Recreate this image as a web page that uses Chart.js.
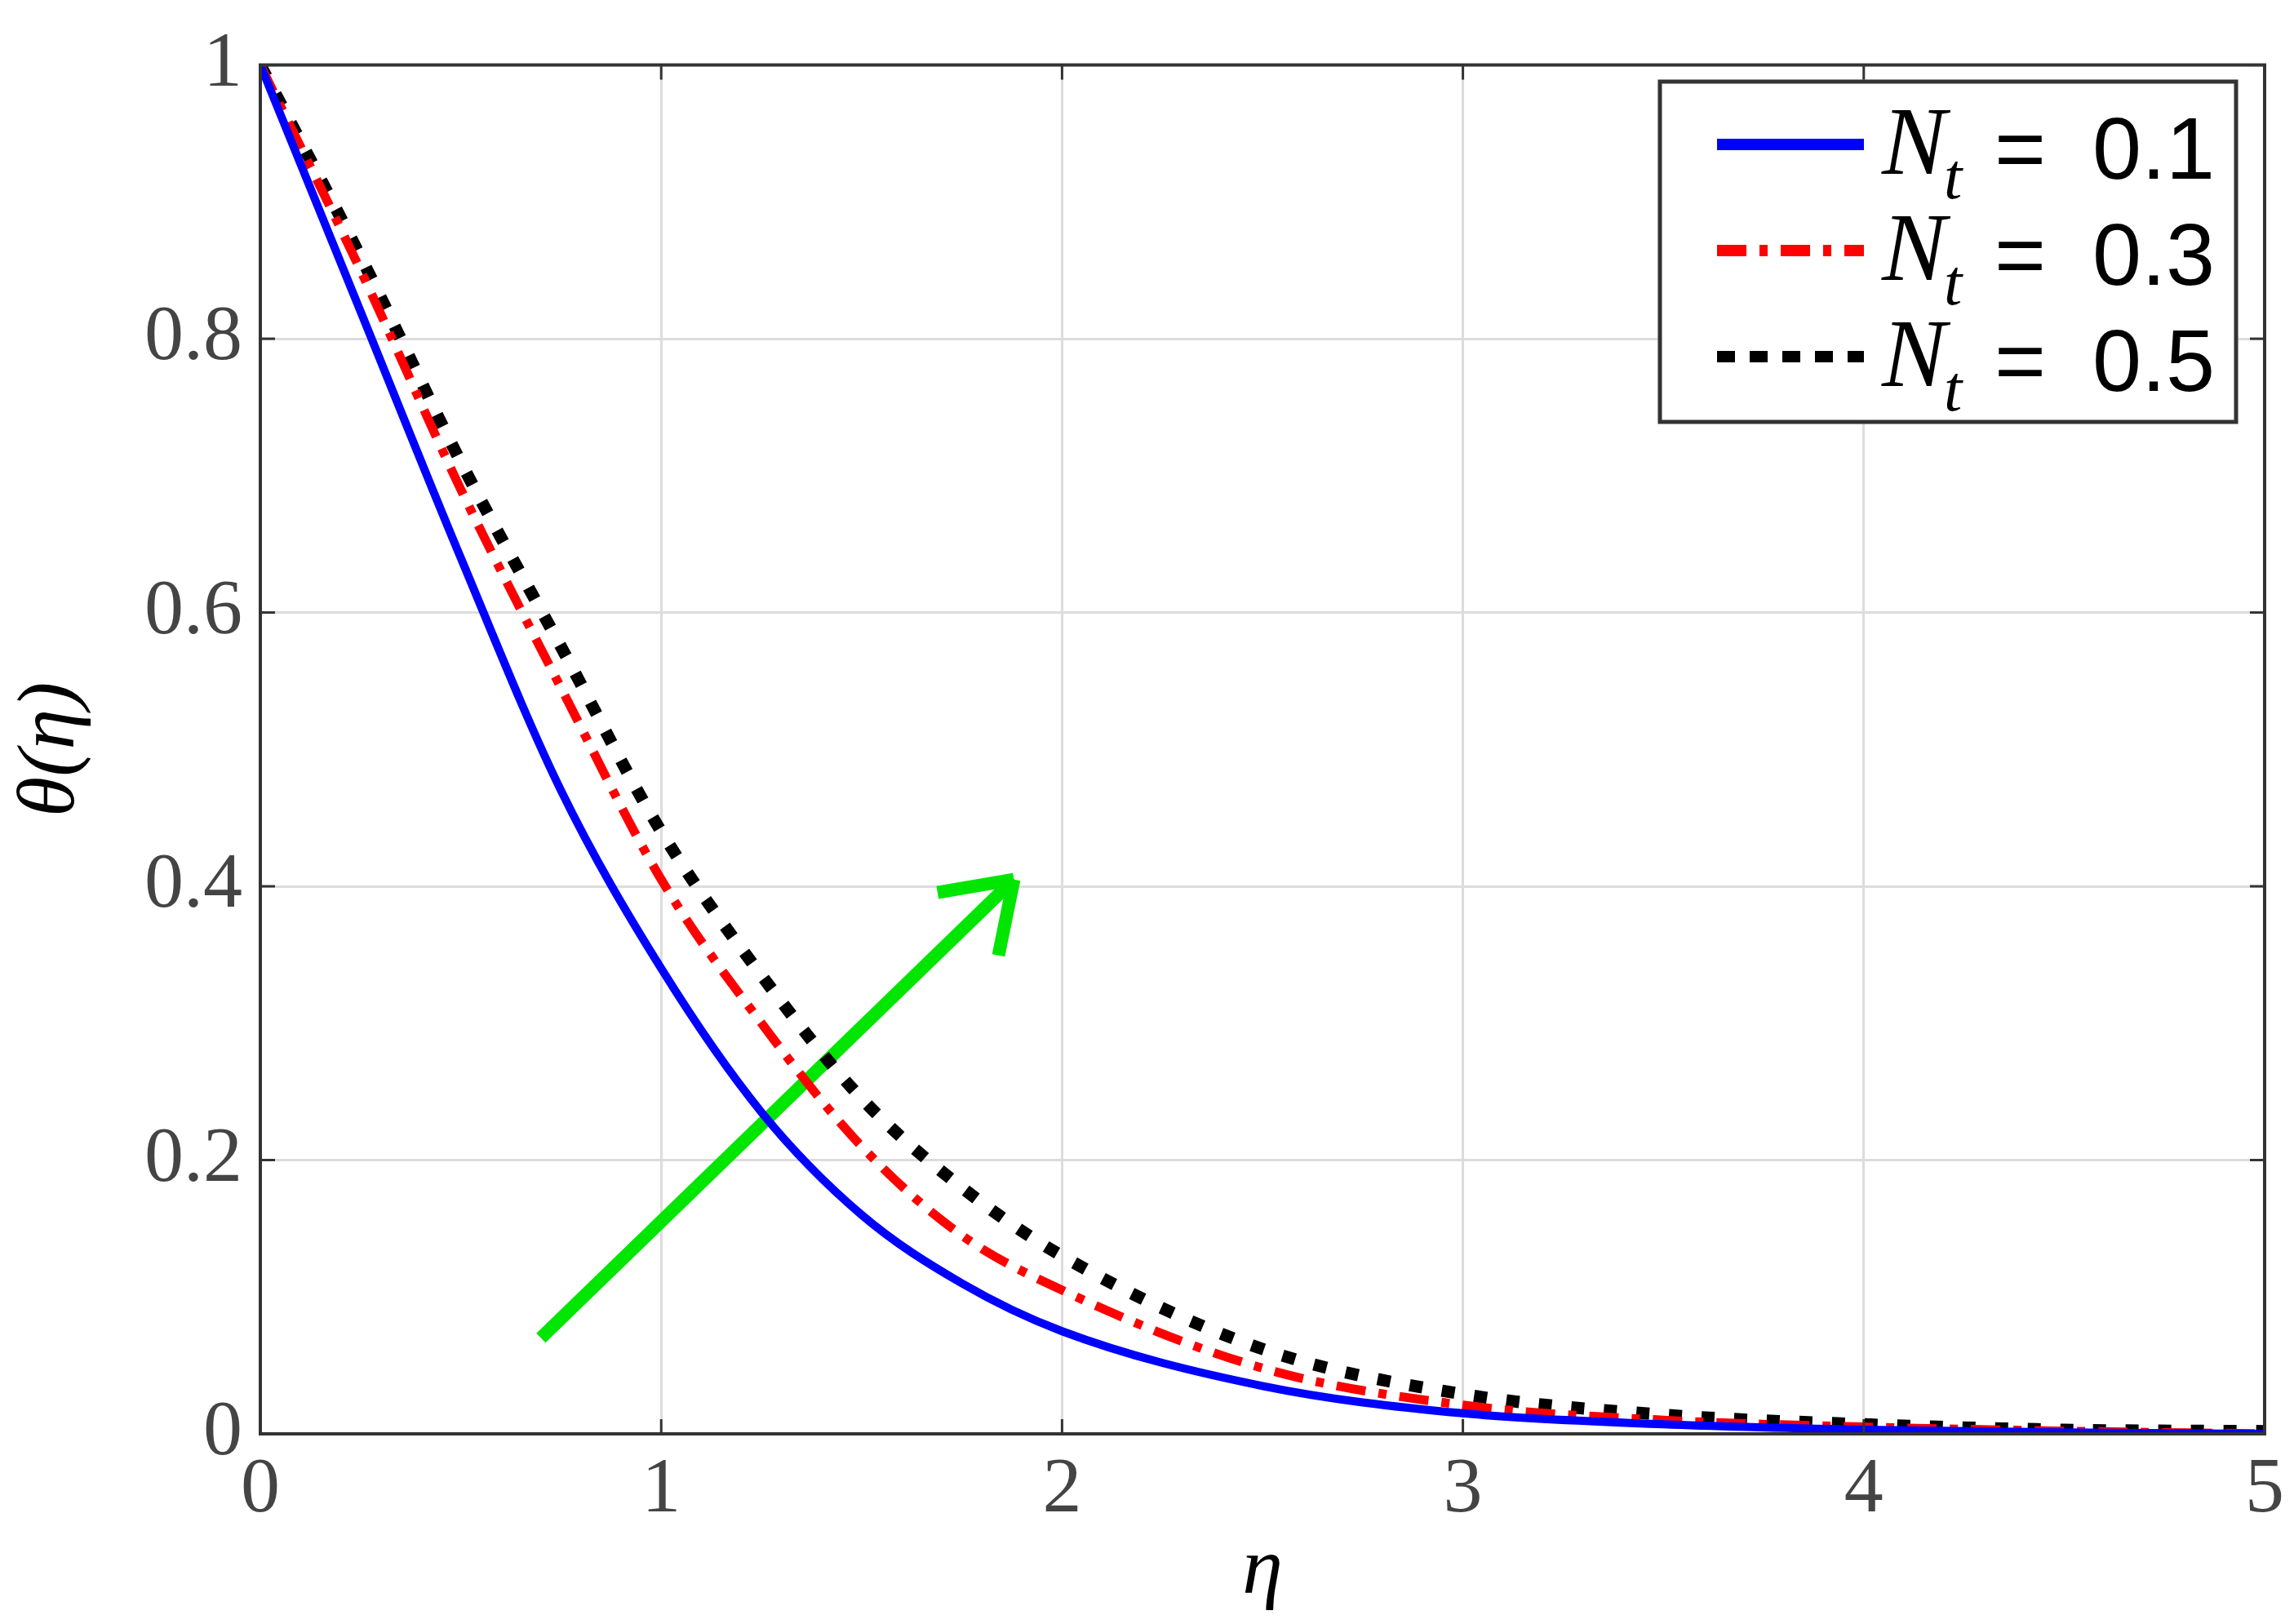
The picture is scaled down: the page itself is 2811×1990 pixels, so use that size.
<!DOCTYPE html>
<html>
<head>
<meta charset="utf-8">
<script src="https://cdn.jsdelivr.net/npm/chart.js@4/dist/chart.umd.min.js"></script>
<style>
  html, body { margin: 0; padding: 0; background: #fff; }
  #wrap { width: 2811px; height: 1990px; }
</style>
</head>
<body>
<div id="wrap"><canvas id="c"></canvas></div>
<script>
// ---- data ----
const eta     = [0, 0.25, 0.5, 0.75, 1, 1.25, 1.5, 1.75, 2, 2.5, 3, 3.5, 4, 4.5, 5];
const nt01    = [1, 0.82, 0.64, 0.47, 0.34, 0.235, 0.16, 0.11, 0.075, 0.035, 0.015, 0.007, 0.003, 0.001, 0];
const nt03    = [1, 0.85, 0.69, 0.545, 0.405, 0.3, 0.21, 0.145, 0.105, 0.048, 0.021, 0.01, 0.005, 0.002, 0];
const nt05    = [1, 0.86, 0.71, 0.575, 0.44, 0.335, 0.245, 0.18, 0.13, 0.062, 0.029, 0.014, 0.007, 0.003, 0.002];
const arrowX  = [0.7, 1.88];
const arrowY  = [0.07, 0.405];
const xTicks  = [0, 1, 2, 3, 4, 5];
const yTicks  = [0, 0.2, 0.4, 0.6, 0.8, 1];
const legendLabels = ['0.1', '0.3', '0.5'];

const pts = (xs, ys) => xs.map((x, i) => ({ x, y: ys[i] }));
const serif = "'Liberation Serif', 'DejaVu Serif', serif";

const frame = {
  id: 'frame',
  afterDraw(chart) {
    const { ctx: c, chartArea: { left, right, top, bottom } } = chart;
    const xs = chart.scales.x, ys = chart.scales.y;
    c.save();
    c.strokeStyle = '#333';
    c.lineWidth = 4;
    c.strokeRect(left, top, right - left, bottom - top);
    // inward ticks
    c.lineWidth = 3;
    xTicks.forEach(v => {
      const px = xs.getPixelForValue(v);
      c.beginPath(); c.moveTo(px, bottom); c.lineTo(px, bottom - 18); c.stroke();
      c.beginPath(); c.moveTo(px, top); c.lineTo(px, top + 18); c.stroke();
    });
    yTicks.forEach(v => {
      const py = ys.getPixelForValue(v);
      c.beginPath(); c.moveTo(left, py); c.lineTo(left + 18, py); c.stroke();
      c.beginPath(); c.moveTo(right, py); c.lineTo(right - 18, py); c.stroke();
    });

    // green arrow head
    const x0 = xs.getPixelForValue(arrowX[0]), y0 = ys.getPixelForValue(arrowY[0]);
    const x1 = xs.getPixelForValue(arrowX[1]), y1 = ys.getPixelForValue(arrowY[1]);
    const ang = Math.atan2(y1 - y0, x1 - x0);
    c.strokeStyle = '#00e600';
    c.lineWidth = 16;
    c.lineCap = 'butt';
    [0.6, -0.6].forEach(d => {
      c.beginPath();
      c.moveTo(x1, y1);
      c.lineTo(x1 - 95 * Math.cos(ang + d), y1 - 95 * Math.sin(ang + d));
      c.stroke();
    });

    // legend box
    const bx = 2034, by = 100, bw = 706, bh = 417;
    c.fillStyle = '#fff';
    c.fillRect(bx, by, bw, bh);
    c.strokeStyle = '#333';
    c.lineWidth = 5;
    c.strokeRect(bx, by, bw, bh);
    const styles = [
      { color: '#0000ff', dash: [] },
      { color: '#ff0000', dash: [36, 16, 10, 16] },
      { color: '#000000', dash: [22, 18] },
    ];
    legendLabels.forEach((lab, i) => {
      const yy = by + 77 + i * 130;
      c.strokeStyle = styles[i].color;
      c.lineWidth = 14;
      c.setLineDash(styles[i].dash);
      c.beginPath(); c.moveTo(bx + 70, yy); c.lineTo(bx + 250, yy); c.stroke();
      c.setLineDash([]);
      c.fillStyle = '#000';
      c.textBaseline = 'middle';
      c.font = "italic 118px 'Liberation Serif', serif";
      c.fillText('N', bx + 272, yy + 5);
      c.font = "italic 80px 'Liberation Serif', serif";
      c.fillText('t', bx + 348, yy + 45);
      c.font = "108px 'Liberation Sans', sans-serif";
      c.fillText('=', bx + 410, yy + 12);
      c.fillText(lab, bx + 530, yy + 12);
    });
    c.restore();
  }
};

new Chart(document.getElementById('c'), {
  type: 'scatter',
  data: {
    datasets: [
      { label: 'Nt = 0.1', data: pts(eta, nt01), showLine: true, borderColor: '#0000ff', borderWidth: 10, pointRadius: 0, cubicInterpolationMode: 'monotone' },
      { label: 'Nt = 0.3', data: pts(eta, nt03), showLine: true, borderColor: '#ff0000', borderWidth: 11, borderDash: [36, 16, 10, 16], pointRadius: 0, cubicInterpolationMode: 'monotone' },
      { label: 'Nt = 0.5', data: pts(eta, nt05), showLine: true, borderColor: '#000000', borderWidth: 15, borderDash: [16, 24], pointRadius: 0, cubicInterpolationMode: 'monotone' },
      { label: 'arrow', data: pts(arrowX, arrowY), showLine: true, borderColor: '#00e600', borderWidth: 16, pointRadius: 0 },
    ],
  },
  options: {
    responsive: true,
    maintainAspectRatio: false,
    animation: false,
    layout: { padding: { left: 0, top: 57, right: 25, bottom: 0 } },
    scales: {
      x: {
        type: 'linear', min: 0, max: 5,
        afterFit: s => { s.height = 233; },
        afterBuildTicks: s => { s.ticks = xTicks.map(v => ({ value: v })); },
        grid: { color: '#dcdcdc', lineWidth: 3, drawTicks: false },
        border: { display: false },
        ticks: { color: '#444', font: { family: serif, size: 96 }, padding: 12 },
        title: { display: true, text: 'η', color: '#000', font: { family: serif, size: 100, style: 'italic' }, padding: { top: -30 } },
      },
      y: {
        type: 'linear', min: 0, max: 1,
        afterFit: s => { s.width = 319; },
        afterBuildTicks: s => { s.ticks = yTicks.map(v => ({ value: v })); },
        grid: { color: '#dcdcdc', lineWidth: 3, drawTicks: false },
        border: { display: false },
        ticks: { color: '#444', font: { family: serif, size: 96 }, padding: 22, callback: v => String(v) },
        title: { display: true, text: 'θ(η)', color: '#000', font: { family: serif, size: 100, style: 'italic' }, padding: { bottom: -10 } },
      },
    },
    plugins: { legend: { display: false }, tooltip: { enabled: false } },
  },
  plugins: [frame],
});
</script>
</body>
</html>
